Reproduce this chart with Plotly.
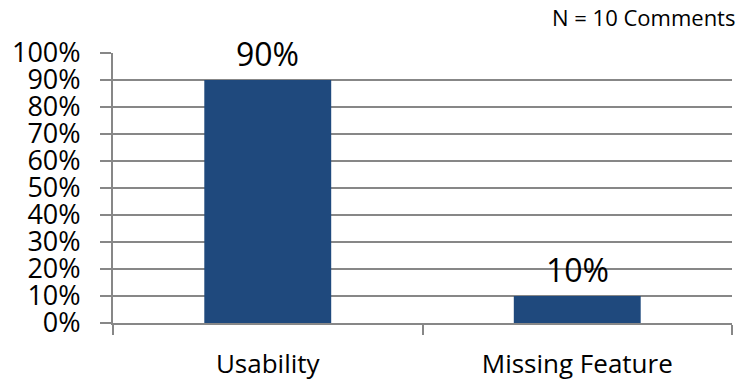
import plotly.graph_objects as go

categories = ["Usability", "Missing Feature"]
values = [0.90, 0.10]
value_labels = ["90%", "10%"]
note = "N = 10 Comments"

FONT = "Open Sans"
GRID = "#878787"

fig = go.Figure()
fig.add_trace(go.Bar(
    x=categories, y=values,
    marker=dict(color="#1F497D", line=dict(width=0)),
    hoverinfo="skip",
))

for c, v, t in zip(categories, values, value_labels):
    fig.add_annotation(x=c, y=v, text=t, showarrow=False, yanchor="bottom",
                       yshift=3, font=dict(family=FONT, size=32, color="#000000"))

fig.add_annotation(x=1, xref="paper", xanchor="right", y=1, yref="paper",
                   yanchor="bottom", yshift=19, xshift=5, text=note, showarrow=False,
                   font=dict(family=FONT, size=22, color="#000000"))

fig.update_layout(
    width=740, height=382,
    margin=dict(l=113, r=8, t=53, b=59),
    paper_bgcolor="white", plot_bgcolor="white",
    bargap=0.59,
    showlegend=False,
    font=dict(family=FONT, color="#000000"),
)
fig.update_yaxes(
    range=[0, 1], dtick=0.1, tickformat=".0%",
    showgrid=True, gridcolor=GRID, gridwidth=2,
    ticks="outside", ticklen=11, tickcolor=GRID, tickwidth=2,
    showline=True, linecolor=GRID, linewidth=2,
    tickfont=dict(family=FONT, size=27, color="#000000"),
    ticklabelstandoff=14, automargin=False,
    zeroline=False, fixedrange=True,
)
fig.update_xaxes(
    tickson="boundaries", ticks="outside", ticklen=10, tickcolor=GRID, tickwidth=2,
    showline=True, linecolor=GRID, linewidth=2,
    tickfont=dict(family=FONT, size=26, color="#000000"),
    ticklabelstandoff=17, automargin=False,
    fixedrange=True,
)

fig.write_html("out.html", config={"displayModeBar": False})
